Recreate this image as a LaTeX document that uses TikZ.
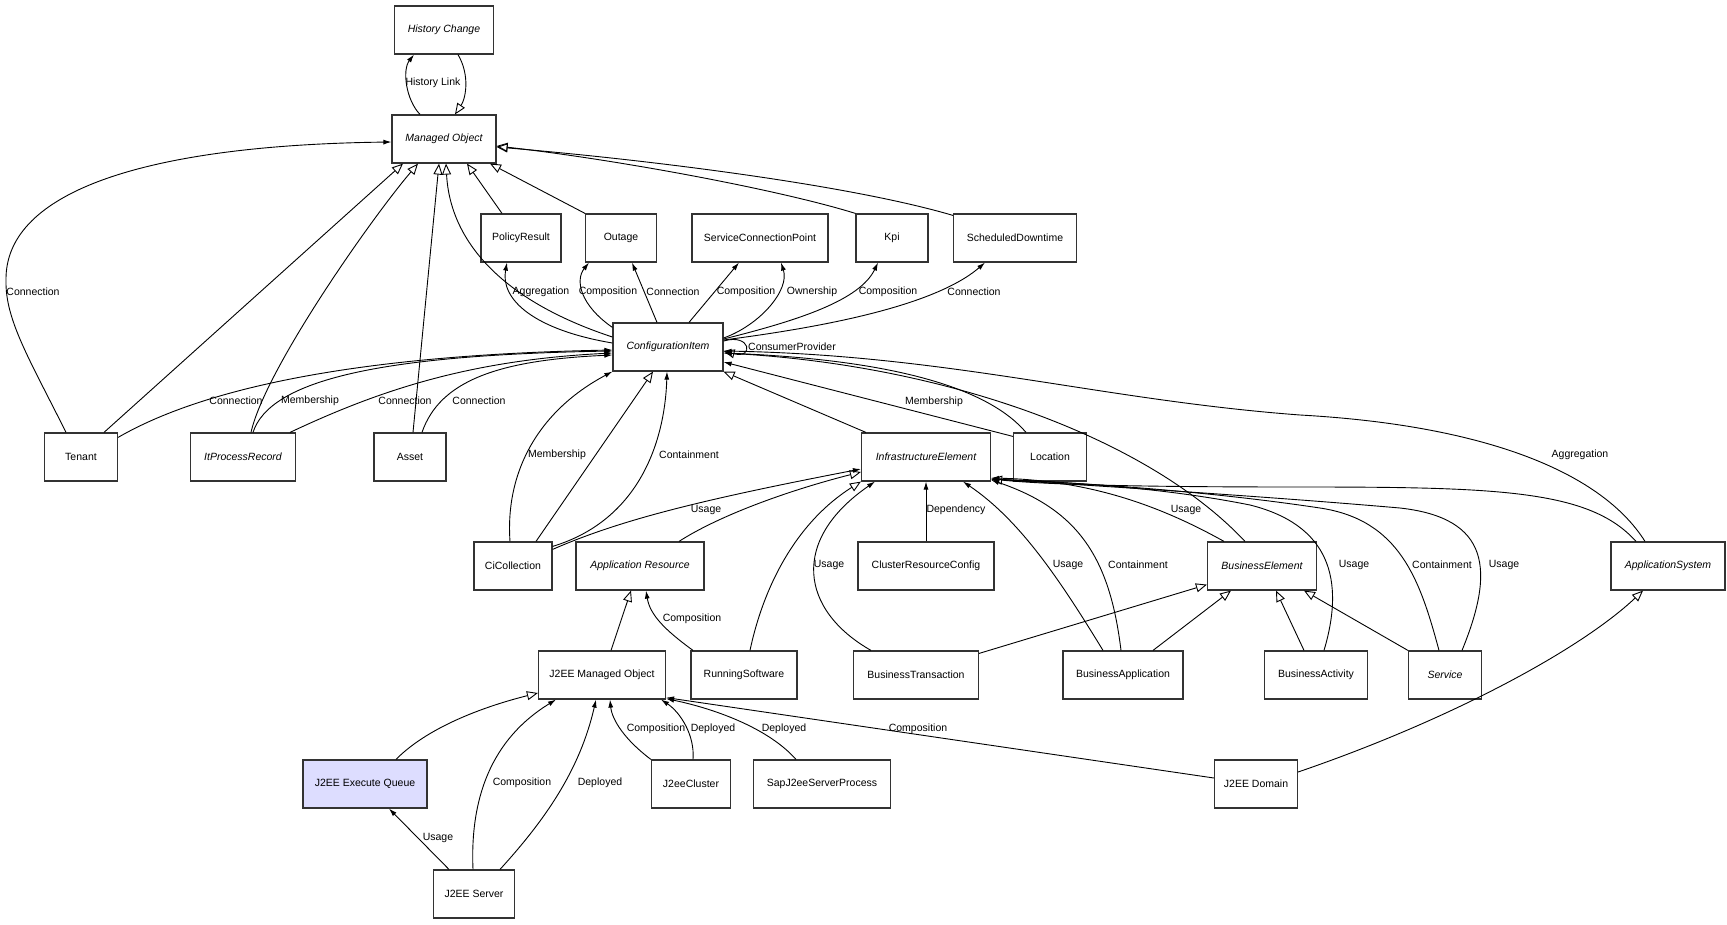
\documentclass[tikz,border=0pt]{standalone}
\usepackage{fontspec}
\setmainfont{Liberation Sans}
\usetikzlibrary{arrows.meta}
\definecolor{queuefill}{RGB}{221,221,255}

\begin{document}
\begin{tikzpicture}[x=1pt,y=-1pt,
    cls/.style={draw=black!80, line width=1.2pt, minimum height=48pt, inner sep=0pt, font=\fontsize{10.5}{12}\selectfont},
    lbl/.style={inner sep=0pt, font=\fontsize{10.5}{12}\selectfont},
    assoc/.style={line width=0.9pt, -{Latex[length=8pt,width=5pt]}},
    gen/.style={line width=0.9pt, -{Triangle[open,length=11pt,width=9pt]}}]
    \useasboundingbox (0,0) rectangle (1727,924);
    % classes
    \foreach \n/\x/\y/\w/\t in {
        hc/444/30/99/{\itshape History Change},
        mo/444/139/104/{\itshape Managed Object},
        pr/521/238/80/PolicyResult,
        outage/621/238/71/Outage,
        scp/760/238/136/ServiceConnectionPoint,
        kpi/892/238/72/Kpi,
        sd/1015/238/123/ScheduledDowntime,
        ci/668/347/110/{\itshape ConfigurationItem},
        tenant/81/457/73/Tenant,
        itpr/243/457/105/{\itshape ItProcessRecord},
        asset/410/457/72/Asset,
        ie/926/457/129/{\itshape InfrastructureElement},
        loc/1050/457/73/Location,
        cic/513/566/78/CiCollection,
        ar/640/566/128/{\itshape Application Resource},
        crc/926/566/136/ClusterResourceConfig,
        be/1262/566/109/{\itshape BusinessElement},
        as/1668/566/114/{\itshape ApplicationSystem},
        jmo/602/675/127/J2EE Managed Object,
        rs/744/675/106/RunningSoftware,
        bt/916/675/125/BusinessTransaction,
        ba/1123/675/120/BusinessApplication,
        bact/1316/675/103/BusinessActivity,
        svc/1445/675/73/{\itshape Service},
        jcl/691/784/79/J2eeCluster,
        sap/822/784/137/SapJ2eeServerProcess,
        jd/1256/784/83/J2EE Domain,
        js/474/894/81/J2EE Server}
        \node[cls, minimum width=\w pt] (\n) at (\x,\y) {\t};
    \node[cls, fill=queuefill, minimum width=124pt] (jeq) at (365,784) {J2EE Execute Queue};

    % Managed Object
    \draw[assoc] ([xshift=-24pt]mo.north) .. controls (406,100) and (402,70) .. ([xshift=-30pt]hc.south);
    \draw[gen] ([xshift=14pt]hc.south) .. controls (470,75) and (466,98) .. ([xshift=11pt]mo.north);
    \draw[assoc] ([xshift=-15pt]tenant.north) .. controls (30,360) and (5,320) .. (6,280) .. controls (5,190) and (150,145) .. ([yshift=-3pt]mo.west);
    \draw[gen] ([xshift=23pt]tenant.north) -- ([xshift=-41pt]mo.south);
    \draw[gen] ([xshift=8pt]itpr.north) .. controls (265,370) and (370,220) .. ([xshift=-26pt]mo.south);
    \draw[gen] ([xshift=3pt]asset.north) -- ([xshift=-5pt]mo.south);
    \draw[gen] ([yshift=10pt]ci.west) .. controls (500,300) and (450,240) .. ([xshift=2pt]mo.south);
    \draw[gen] ([xshift=-19pt]pr.north) -- ([xshift=23pt]mo.south);
    \draw[gen] ([xshift=-36pt]outage.north) -- ([xshift=46pt]mo.south);
    \draw[gen] (kpi.north west) .. controls (780,190) and (620,160) .. ([yshift=-7pt]mo.east);
    \draw[gen] ([yshift=-2pt]sd.north west) .. controls (850,185) and (650,160) .. ([yshift=-8pt]mo.east);

    % ConfigurationItem, top
    \draw[assoc] ([yshift=4pt]ci.west) .. controls (535,330) and (500,300) .. ([xshift=-14pt]pr.south);
    \draw[assoc] ([yshift=-5pt]ci.north west) .. controls (580,305) and (575,280) .. ([xshift=-32pt]outage.south);
    \draw[assoc] ([xshift=-11pt]ci.north) -- ([xshift=11pt]outage.south);
    \draw[assoc] ([xshift=21pt]ci.north) -- ([xshift=-21pt]scp.south);
    \draw[assoc] ([yshift=9pt]ci.east) .. controls (760,325) and (790,290) .. ([xshift=21pt]scp.south);
    \draw[assoc] ([yshift=8pt]ci.east) .. controls (800,320) and (860,300) .. ([xshift=-14pt]kpi.south);
    \draw[assoc] ([yshift=7pt]ci.east) .. controls (800,330) and (930,310) .. ([xshift=-30pt]sd.south);
    \draw[gen] ([yshift=6pt]ci.east) .. controls (751,333) and (754,359) .. ([yshift=-4pt]ci.east);

    % ConfigurationItem, left and bottom
    \draw[assoc] ([yshift=-5pt]tenant.north east) .. controls (200,390) and (350,355) .. ([yshift=-3pt]ci.west);
    \draw[assoc] ([xshift=10pt]itpr.north) .. controls (270,380) and (380,355) .. ([yshift=-4pt]ci.west);
    \draw[assoc] ([xshift=47pt]itpr.north) .. controls (380,390) and (470,360) .. ([yshift=-6pt]ci.west);
    \draw[assoc] ([xshift=12pt]asset.north) .. controls (440,380) and (500,360) .. ([yshift=-8pt]ci.west);
    \draw[assoc] ([xshift=-3pt]cic.north) .. controls (505,470) and (540,410) .. (ci.south west);
    \draw[gen] ([xshift=23pt]cic.north) -- ([xshift=-15pt]ci.south);
    \draw[assoc] ([yshift=-5pt]cic.north east) .. controls (640,520) and (665,440) .. ([xshift=-1pt]ci.south);

    % ConfigurationItem, right
    \draw[gen] ([xshift=5pt]ie.north west) -- (ci.south east);
    \draw[assoc] ([yshift=-4pt]loc.north west) -- ([yshift=-15pt]ci.east);
    \draw[assoc] ([xshift=-24pt]loc.north) .. controls (990,390) and (900,360) .. ([yshift=-6pt]ci.east);
    \draw[assoc] ([xshift=-17pt]be.north) .. controls (1150,440) and (950,365) .. ([yshift=-6pt]ci.east);
    \draw[assoc] ([xshift=-23pt]as.north) .. controls (1600,470) and (1480,425) .. (1300,415) .. controls (1100,400) and (950,355) .. ([yshift=-4pt]ci.east);

    % InfrastructureElement
    \draw[assoc] ([yshift=-8pt]cic.north east) .. controls (620,520) and (700,500) .. ([yshift=-12pt]ie.west);
    \draw[gen] ([xshift=39pt]ar.north) .. controls (720,515) and (790,490) .. ([yshift=-15pt]ie.west);
    \draw[assoc] (crc.north) -- (ie.south);
    \draw[gen] ([xshift=6pt]rs.north) .. controls (765,580) and (800,520) .. (ie.south west);
    \draw[assoc] ([xshift=-45pt]bt.north) .. controls (800,610) and (790,540) .. ([xshift=-51pt]ie.south);
    \draw[assoc] ([xshift=-20pt]ba.north) .. controls (1060,580) and (1020,520) .. ([xshift=37pt]ie.south);
    \draw[assoc] ([xshift=-2pt]ba.north) .. controls (1110,560) and (1080,510) .. ([yshift=-23pt]ie.east);
    \draw[assoc] ([xshift=-38pt]be.north) .. controls (1150,500) and (1080,480) .. ([yshift=-21pt]ie.east);
    \draw[assoc] ([xshift=8pt]bact.north) .. controls (1345,580) and (1330,525) .. (1250,505) .. controls (1150,485) and (1050,482) .. ([yshift=-22pt]ie.east);
    \draw[assoc] ([xshift=-6pt]svc.north) .. controls (1420,580) and (1400,520) .. (1320,508) .. controls (1200,490) and (1080,483) .. ([yshift=-22pt]ie.east);
    \draw[assoc] ([xshift=17pt]svc.north) .. controls (1495,570) and (1490,518) .. (1400,508) .. controls (1250,495) and (1080,485) .. ([yshift=-22pt]ie.east);
    \draw[gen] ([xshift=-32pt]as.north) .. controls (1590,490) and (1500,487) .. (1300,487) .. controls (1150,487) and (1050,485) .. ([yshift=-22pt]ie.east);

    % BusinessElement, ApplicationSystem
    \draw[gen] ([yshift=-3pt]bt.north east) -- ([yshift=6pt]be.south west);
    \draw[gen] ([xshift=30pt]ba.north) -- ([xshift=-31pt]be.south);
    \draw[gen] ([xshift=-12pt]bact.north) -- ([xshift=14pt]be.south);
    \draw[gen] (svc.north west) -- ([xshift=42pt]be.south);
    \draw[gen] ([yshift=12pt]jd.east) .. controls (1450,720) and (1580,650) .. ([xshift=-25pt]as.south);

    % J2EE
    \draw[gen] ([xshift=9pt]jmo.north) -- ([xshift=-9pt]ar.south);
    \draw[assoc] ([xshift=-51pt]rs.north) .. controls (665,630) and (650,615) .. ([xshift=6pt]ar.south);
    \draw[gen] ([xshift=31pt]jeq.north) .. controls (430,725) and (490,705) .. ([yshift=-18pt]jmo.west);
    \draw[assoc] ([xshift=-1pt]js.north) .. controls (470,800) and (490,740) .. ([xshift=-46pt]jmo.south);
    \draw[assoc] ([xshift=26pt]js.north) .. controls (545,820) and (580,770) .. ([xshift=-6pt]jmo.south);
    \draw[assoc] ([xshift=-25pt]js.north) -- ([xshift=24pt]jeq.south);
    \draw[assoc] (jcl.north west) .. controls (625,740) and (612,720) .. ([xshift=8pt]jmo.south);
    \draw[assoc] ([xshift=2pt]jcl.north) .. controls (695,735) and (680,712) .. ([xshift=59pt]jmo.south);
    \draw[assoc] ([xshift=-26pt]sap.north) .. controls (770,730) and (720,710) .. ([yshift=1pt]jmo.south east);
    \draw[assoc] ([yshift=6pt]jd.west) -- ([yshift=2pt]jmo.south east);

    % labels
    \foreach \x/\y/\t [count=\i] in {
        433/83/History Link, 33/292/Connection, 541/292/Aggregation,
        608/292/Composition, 673/292/Connection, 746/292/Composition,
        812/292/Ownership, 888/292/Composition, 974/292/Connection,
        792/347/ConsumerProvider, 236/401/Connection, 310/401/Membership,
        405/401/Connection, 479/401/Connection, 934/402/Membership,
        557/455/Membership, 689/455/Containment, 1580/455/Aggregation,
        706/510/Usage, 956/510/Dependency, 1186/510/Usage,
        829/565/Usage, 1068/565/Usage, 1138/565/Containment,
        1354/565/Usage, 1442/565/Containment, 1504/565/Usage,
        692/619/Composition, 656/729/Composition, 713/729/Deployed,
        784/729/Deployed, 918/729/Composition, 522/783/Composition,
        600/783/Deployed, 438/838/Usage}
        \node[lbl] (lab\i) at (\x,\y) {\t};
\end{tikzpicture}
\end{document}
